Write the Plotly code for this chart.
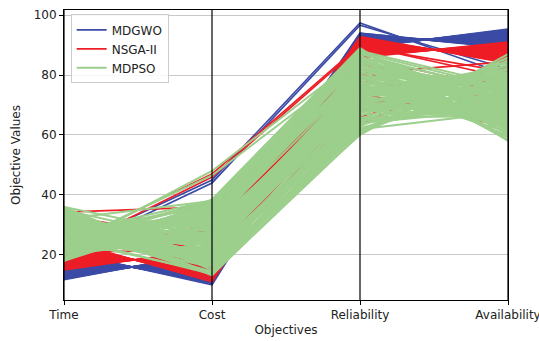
import plotly.graph_objects as go

categories = ["Time", "Cost", "Reliability", "Availability"]
series_names = ["MDGWO", "NSGA-II", "MDPSO"]
y_ticks = [20, 40, 60, 80, 100]

# MDGWO
mdgwo_time = [11.7, 12.0, 12.3, 12.6, 13.0, 13.3, 13.6, 13.9, 14.3, 14.6, 14.9, 15.2, 15.5, 15.9, 16.2,
              16.5, 16.8, 17.1, 17.5, 17.8, 18.1, 18.4, 18.8, 19.1, 19.4, 19.7, 20.0, 20.4, 20.7, 21.0,
              22.0, 20.5]
mdgwo_cost = [21.0, 20.6, 20.3, 19.9, 19.5, 19.1, 18.7, 18.4, 18.0, 17.6, 17.2, 16.8, 16.4, 16.1, 15.7,
              15.3, 14.9, 14.6, 14.2, 13.8, 13.4, 13.0, 12.7, 12.3, 11.9, 11.5, 11.1, 10.8, 10.4, 10.0,
              45.0, 44.0]
mdgwo_rel = [94.0, 93.9, 93.6, 93.5, 93.3, 93.1, 93.0, 92.8, 92.6, 92.5, 92.3, 92.1, 91.9, 91.8, 91.6,
             91.4, 91.2, 91.1, 90.9, 90.7, 90.6, 90.4, 90.2, 90.0, 89.9, 89.7, 89.5, 89.3, 89.2, 89.0,
             97.4, 96.6]
mdgwo_avail = [89.0, 89.3, 89.4, 89.7, 89.8, 90.1, 90.3, 90.5, 90.7, 91.0, 91.2, 91.4, 91.6, 91.8, 92.0,
               92.3, 92.5, 92.7, 92.9, 93.1, 93.3, 93.6, 93.8, 94.0, 94.2, 94.4, 94.7, 94.9, 95.1, 95.3,
               80.0, 82.0]

# NSGA-II
nsga_time = [15.0, 15.5, 16.0, 16.5, 17.0, 17.5, 18.0, 18.5, 19.0, 19.5, 20.0, 20.5, 21.0, 21.5, 22.0,
             22.5, 23.0, 23.5, 24.0, 24.5, 25.0,
             34.3, 23.0, 21.5, 30.0, 28.0, 26.0, 24.0, 22.0, 20.0, 32.5, 27.5, 25.0, 19.0, 31.0, 29.0,
             21.0, 33.0, 18.5]
nsga_cost = [22.0, 21.5, 20.9, 20.4, 19.8, 19.3, 18.7, 18.2, 17.6, 17.1, 16.5, 16.0, 15.4, 14.9, 14.3,
             13.8, 13.2, 12.7, 12.1, 11.6, 11.0,
             36.0, 47.0, 46.0, 20.0, 24.0, 28.0, 33.0, 26.0, 30.0, 18.0, 22.0, 19.0, 35.0, 16.0, 31.0,
             21.5, 25.0, 38.0]
nsga_rel = [92.8, 92.4, 92.1, 91.7, 91.4, 91.0, 90.7, 90.4, 90.0, 89.7, 89.3, 88.9, 88.6, 88.2, 87.9,
            87.5, 87.1, 86.8, 86.5, 86.1, 85.8,
            80.0, 90.0, 89.5, 72.0, 76.0, 64.0, 82.0, 68.0, 78.0, 70.0, 84.0, 66.0, 86.0, 63.5, 74.0,
            80.5, 88.0, 84.5]
nsga_avail = [84.0, 84.4, 84.7, 85.1, 85.4, 85.8, 86.1, 86.5, 86.8, 87.2, 87.5, 87.9, 88.2, 88.6, 88.9,
              89.3, 89.6, 90.0, 90.3, 90.7, 91.0,
              78.0, 79.0, 81.0, 70.0, 66.0, 74.0, 63.0, 83.0, 72.0, 77.0, 68.0, 80.0, 75.0, 86.0, 62.5,
              84.5, 65.0, 70.5]

# MDPSO
mdpso_time = [26.0, 34.0, 31.0, 36.0, 29.0, 27.0, 33.0, 35.5, 28.0, 32.0,
              33.0, 30.0, 35.0, 28.0, 26.0, 32.0, 34.5, 27.0, 31.0, 25.0,
              29.0, 34.0, 27.0, 25.0, 31.0, 33.5, 26.0, 30.0, 24.0, 32.0,
              33.0, 26.0, 24.0, 30.0, 32.5, 25.0, 29.0, 23.0, 31.0, 28.0,
              25.0, 23.0, 29.0, 31.5, 24.0, 28.0, 22.0, 30.0, 27.0, 32.0,
              22.0, 28.0, 30.5, 23.0, 27.0, 21.0, 29.0, 26.0, 31.0, 24.0,
              27.0, 29.5, 22.0, 26.0, 20.0, 28.0, 25.0, 30.0, 23.0, 21.0,
              28.5, 21.0, 25.0, 19.0, 27.0, 24.0, 29.0, 22.0, 20.0, 26.0,
              20.0, 24.0, 18.0, 26.0, 23.0, 28.0, 21.0, 19.0, 25.0, 27.5,
              23.0, 18.0, 25.0, 22.0, 27.0, 20.0, 18.5, 24.0, 26.5, 19.0,
              22.0, 23.5, 32.0, 36.0, 35.0]
mdpso_cost = [16.0, 13.5, 18.0, 15.0, 13.5, 17.0, 13.2, 16.5, 14.5, 17.5,
              19.6, 16.6, 15.1, 18.6, 13.6, 18.1, 16.1, 19.1, 17.6, 14.1,
              17.6, 21.1, 16.1, 20.6, 18.6, 21.6, 20.1, 16.6, 22.1, 19.1,
              18.7, 23.2, 21.2, 24.2, 22.7, 19.2, 24.7, 21.7, 20.2, 23.7,
              23.7, 26.7, 25.2, 21.7, 27.2, 24.2, 22.7, 26.2, 21.2, 25.7,
              27.8, 24.3, 29.8, 26.8, 25.3, 28.8, 23.8, 28.3, 26.3, 29.3,
              32.3, 29.3, 27.8, 31.3, 26.3, 30.8, 28.8, 31.8, 30.3, 26.8,
              30.4, 33.9, 28.9, 33.4, 31.4, 34.4, 32.9, 29.4, 34.9, 31.9,
              31.4, 35.9, 33.9, 36.9, 35.4, 31.9, 37.4, 34.4, 32.9, 36.4,
              36.5, 38.5, 38.0, 34.5, 38.2, 37.0, 35.5, 37.8, 34.0, 37.5,
              48.0, 46.5, 38.0, 26.0, 24.0]
mdpso_rel = [60.0, 65.0, 61.5, 63.5, 60.3, 64.5, 62.0, 61.0, 65.0, 60.8,
             66.4, 61.9, 67.4, 64.9, 63.9, 67.9, 62.4, 62.9, 67.9, 64.4,
             67.8, 66.8, 70.8, 65.3, 65.8, 70.8, 67.3, 69.3, 64.8, 70.3,
             68.2, 68.7, 73.7, 70.2, 72.2, 67.7, 73.2, 70.7, 69.7, 73.7,
             73.1, 75.1, 70.6, 76.1, 73.6, 72.6, 76.6, 71.1, 71.6, 76.6,
             78.9, 76.4, 75.4, 79.4, 73.9, 74.4, 79.4, 75.9, 77.9, 73.4,
             82.3, 76.8, 77.3, 82.3, 78.8, 80.8, 76.3, 81.8, 79.3, 78.3,
             85.2, 81.7, 83.7, 79.2, 84.7, 82.2, 81.2, 85.2, 79.7, 80.2,
             82.1, 87.6, 85.1, 84.1, 88.1, 82.6, 83.1, 88.1, 84.6, 86.6,
             87.0, 89.0, 85.5, 86.0, 88.8, 87.5, 88.5, 85.0, 88.7, 88.0,
             86.0, 84.0, 80.0, 73.0, 70.0]
mdpso_avail = [87.0, 70.0, 82.0, 75.0, 85.0, 72.0, 78.0, 86.0, 69.0, 80.0,
               84.7, 67.7, 78.7, 85.7, 68.7, 80.7, 73.7, 83.7, 70.7, 76.7,
               82.3, 69.3, 75.3, 83.3, 66.3, 77.3, 84.3, 67.3, 79.3, 72.3,
               66.0, 78.0, 71.0, 81.0, 68.0, 74.0, 82.0, 65.0, 76.0, 83.0,
               63.7, 74.7, 81.7, 64.7, 76.7, 69.7, 79.7, 66.7, 72.7, 80.7,
               65.3, 71.3, 79.3, 62.3, 73.3, 80.3, 63.3, 75.3, 68.3, 78.3,
               74.0, 67.0, 77.0, 64.0, 70.0, 78.0, 61.0, 72.0, 79.0, 62.0,
               70.7, 77.7, 60.7, 72.7, 65.7, 75.7, 62.7, 68.7, 76.7, 59.7,
               67.3, 75.3, 58.3, 69.3, 76.3, 59.3, 71.3, 64.3, 74.3, 61.3,
               74.0, 58.0, 68.0, 75.0, 58.5, 70.0, 63.0, 73.0, 60.0, 66.0,
               72.0, 75.0, 70.0, 74.0, 68.0]

colors = ["#3b4ba6", "#ee1d26", "#9ccf8c"]
widths = [1.7, 1.7, 2.0]
series = [
    (mdgwo_time, mdgwo_cost, mdgwo_rel, mdgwo_avail),
    (nsga_time, nsga_cost, nsga_rel, nsga_avail),
    (mdpso_time, mdpso_cost, mdpso_rel, mdpso_avail),
]

fig = go.Figure()
xpos = list(range(len(categories)))
for name, color, w, cols in zip(series_names, colors, widths, series):
    xs, ys = [], []
    for row in zip(*cols):
        xs += xpos + [None]
        ys += list(row) + [None]
    fig.add_trace(go.Scatter(x=xs, y=ys, mode="lines", name=name,
                             line=dict(color=color, width=w), connectgaps=False))

for i in xpos:
    fig.add_shape(type="line", xref="x", yref="paper", x0=i, x1=i, y0=0, y1=1,
                  line=dict(color="black", width=1.2), layer="above")

fig.update_layout(
    width=539, height=341,
    margin=dict(l=64, r=31, t=10, b=41),
    paper_bgcolor="white", plot_bgcolor="white",
    font=dict(family="DejaVu Sans", size=12, color="#222"),
    showlegend=True,
    legend=dict(x=0.015, y=0.985, xanchor="left", yanchor="top",
                bgcolor="rgba(255,255,255,0.85)", bordercolor="#cccccc", borderwidth=1,
                font=dict(size=12), tracegroupgap=0),
    xaxis=dict(range=[0, 3], tickvals=xpos, ticktext=categories, showgrid=False, zeroline=False,
               ticks="outside", ticklen=4, tickcolor="black", showline=True, linecolor="black",
               mirror=True, automargin=False, ticklabeloverflow="allow",
               title=dict(text="Objectives", standoff=4, font=dict(size=12))),
    yaxis=dict(range=[4.95, 101.7], tickvals=y_ticks, showgrid=True, gridcolor="#c8c8c8",
               zeroline=False, ticks="outside", ticklen=4, tickcolor="black", showline=True,
               linecolor="black", mirror=True, automargin=False,
               title=dict(text="Objective Values", standoff=10, font=dict(size=12))),
)

fig.write_html("out.html", config={"displayModeBar": False},
               post_script="document.body.style.margin='0';document.body.style.overflow='hidden';")
